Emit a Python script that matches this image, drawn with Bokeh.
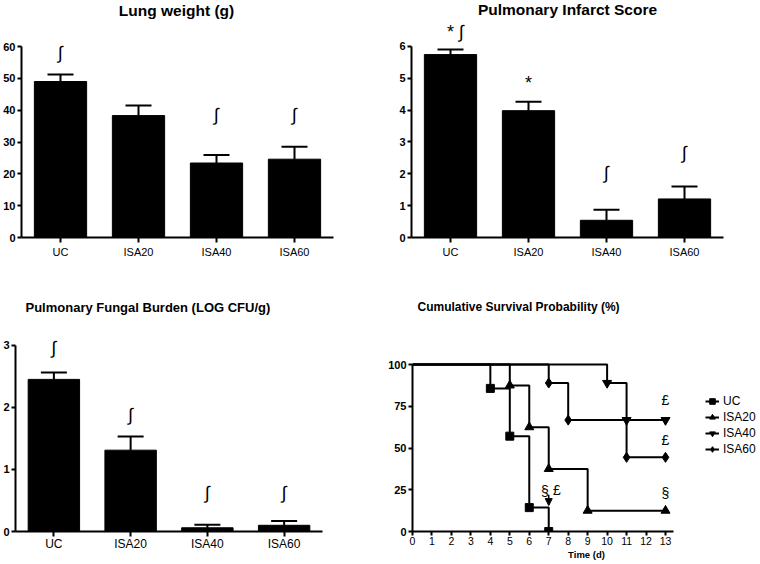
from bokeh.plotting import figure
from bokeh.models import (ColumnDataSource, Range1d, FactorRange, Whisker, TeeHead,
                          LabelSet, Label, Legend, LegendItem, Arrow, NormalHead, FixedTicker)
from bokeh.core.properties import value
from bokeh.layouts import column, row
from bokeh.embed import file_html
from bokeh.resources import INLINE

FONT = "Liberation Sans"

# ---------------- data ----------------
groups = ["UC", "ISA20", "ISA40", "ISA60"]

lung_weight = [49.0, 38.3, 23.4, 24.6]
lung_weight_err = [2.2, 3.2, 2.5, 3.9]
lung_ticks = [0, 10, 20, 30, 40, 50, 60]
lung_sig_groups = ["UC", "ISA40", "ISA60"]
lung_sig_y = [58.0, 38.5, 38.5]
lung_sig_text = ["∫", "∫", "∫"]

infarct_score = [5.74, 3.98, 0.54, 1.21]
infarct_err = [0.16, 0.28, 0.33, 0.39]
infarct_ticks = [0, 1, 2, 3, 4, 5, 6]
infarct_sig_groups = ["UC", "ISA20", "ISA40", "ISA60"]
infarct_sig_y = [6.45, 4.84, 2.03, 2.66]
infarct_sig_text = ["* ∫", "*", "∫", "∫"]

fungal_burden = [2.45, 1.31, 0.06, 0.10]
fungal_err = [0.11, 0.22, 0.05, 0.07]
fungal_ticks = [0, 1, 2, 3]
fungal_sig_groups = ["UC", "ISA20", "ISA40", "ISA60"]
fungal_sig_y = [2.95, 1.88, 0.62, 0.62]
fungal_sig_text = ["∫", "∫", "∫", "∫"]

day_ticks = list(range(14))
surv_ticks = [0, 25, 50, 75, 100]
uc_days = [0, 4, 5, 6, 7]
uc_surv = [100, 85.7, 57.1, 14.3, 0]
isa20_days = [0, 5, 6, 7, 9, 13]
isa20_surv = [100, 87.5, 62.5, 37.5, 12.5, 12.5]
isa40_days = [0, 10, 11, 13]
isa40_surv = [100, 88.9, 66.7, 66.7]
isa60_days = [0, 7, 8, 11, 13]
isa60_surv = [100, 88.9, 66.7, 44.4, 44.4]

surv_sig_x = [13, 13, 13, 6.8, 7.42]
surv_sig_y = [79, 54.5, 23, 24.5, 25]
surv_sig_text = ["£", "£", "§", "§", "£"]
arrow_x = 7
arrow_from = 22
arrow_to = 15.5


def style_axes(p, xsize="11px", xstandoff=3, ysize="11px"):
    p.xgrid.visible = False
    p.ygrid.visible = False
    p.outline_line_color = None
    p.background_fill_color = "white"
    p.border_fill_color = "white"
    for ax in (p.xaxis[0], p.yaxis[0]):
        ax.axis_line_width = 2
        ax.axis_line_color = "black"
        ax.major_tick_line_width = 2
        ax.major_tick_line_color = "black"
        ax.major_tick_in = 0
        ax.minor_tick_line_color = None
        ax.major_label_text_color = "black"
        ax.major_label_text_font = FONT
    p.xaxis[0].major_tick_out = 5
    p.xaxis[0].major_label_text_font_size = xsize
    p.xaxis[0].major_label_standoff = xstandoff
    p.yaxis[0].major_tick_out = 4
    p.yaxis[0].major_label_standoff = 2
    p.yaxis[0].major_label_text_font_size = ysize
    p.yaxis[0].major_label_text_font_style = "bold"


def add_title(p, text, x, y, size, align, baseline):
    p.add_layout(Label(x=x, y=y, x_units="screen", y_units="screen", text=text,
                       text_font=FONT, text_font_style="bold", text_font_size=size,
                       text_color="black", text_align=align, text_baseline=baseline))


def bar_panel(vals, errs, ymax, yticks, sig_g, sig_y, sig_t,
              W, H, FL, FR, FB, axis_top, xsize="11px", xstandoff=3, sig_dx=None):
    # frame spans from the top of the canvas; axis line bounded to [0, ymax]
    y_end = ymax * FB / (FB - axis_top)
    src = ColumnDataSource(dict(group=groups, value=vals,
                                upper=[v + e for v, e in zip(vals, errs)]))
    p = figure(x_range=FactorRange(factors=groups), y_range=Range1d(0, y_end),
               width=W, height=H, output_backend="svg", title=None,
               toolbar_location=None, tools="", min_border=0,
               min_border_left=FL, min_border_right=W - FR,
               min_border_top=0, min_border_bottom=H - FB)
    p.vbar(x="group", top="value", width=0.67, source=src,
           fill_color="black", line_color="black")
    p.add_layout(Whisker(base="group", lower="value", upper="upper", source=src,
                         line_width=2, line_color="black", lower_head=None,
                         upper_head=TeeHead(size=26, line_width=2, line_color="black"),
                         level="overlay"))
    lsrc = ColumnDataSource(dict(x=sig_g, y=sig_y, t=sig_t,
                                 dx=sig_dx if sig_dx else [0] * len(sig_g)))
    p.add_layout(LabelSet(x="x", y="y", text="t", source=lsrc, x_offset="dx",
                          text_align="center", text_baseline="middle",
                          text_font=value(FONT), text_font_size=value("18px"),
                          text_color="black"))
    p.yaxis[0].ticker = FixedTicker(ticks=yticks)
    p.yaxis[0].bounds = (0, ymax)
    style_axes(p, xsize=xsize, xstandoff=xstandoff)
    return p


# top-left panel: canvas (0,0)-(380,280)
p1 = bar_panel(lung_weight, lung_weight_err, 60, lung_ticks,
               lung_sig_groups, lung_sig_y, lung_sig_text,
               380, 280, FL=21, FR=333, FB=237, axis_top=46)
add_title(p1, "Lung weight (g)", 176 - 21, 237 - 10, "15.5px", "center", "middle")

# top-right panel: canvas (380,0)-(760,280)
p2 = bar_panel(infarct_score, infarct_err, 6, infarct_ticks,
               infarct_sig_groups, infarct_sig_y, infarct_sig_text,
               380, 280, FL=31, FR=343, FB=238, axis_top=46, sig_dx=[5, 0, 0, 0])
add_title(p2, "Pulmonary Infarct Score", 187 - 31, 238 - 10, "15.5px", "center", "middle")

# bottom-left panel: canvas (0,280)-(380,564)
p3 = bar_panel(fungal_burden, fungal_err, 3, fungal_ticks,
               fungal_sig_groups, fungal_sig_y, fungal_sig_text,
               380, 284, FL=15, FR=322, FB=252, axis_top=65,
               xsize="12px", xstandoff=0)
add_title(p3, "Pulmonary Fungal Burden (LOG CFU/g)", 25 - 15, 252 - 28, "13px",
          "left", "middle")

# ---------------- survival: canvas (380,280)-(760,564) ----------------
W4, H4, FL4, FB4, TOP4 = 380, 284, 32, 251, 84
x_px_per_day = 253 / 13
x_end = (W4 - FL4) / x_px_per_day
y_end = 100 * FB4 / (FB4 - TOP4)
p4 = figure(x_range=Range1d(0, x_end), y_range=Range1d(0, y_end),
            width=W4, height=H4, output_backend="svg", title=None,
            toolbar_location=None, tools="", min_border=0,
            min_border_left=FL4, min_border_right=0,
            min_border_top=0, min_border_bottom=H4 - FB4)

series = [
    ("UC", uc_days, uc_surv, "square", 8),
    ("ISA20", isa20_days, isa20_surv, "triangle", 9),
    ("ISA40", isa40_days, isa40_surv, "inverted_triangle", 9),
    ("ISA60", isa60_days, isa60_surv, "diamond", 10),
]
items = []
for name, t, s, marker, size in series:
    lr = p4.step(t, s, mode="after", line_width=2, line_color="black")
    mr = p4.scatter(t[1:], s[1:], marker=marker, size=size,
                    fill_color="black", line_color="black")
    items.append(LegendItem(label=name, renderers=[lr, mr]))

legend = Legend(items=items, location=(293, 74), orientation="vertical",
                border_line_color=None, background_fill_alpha=0,
                label_text_font=FONT, label_text_font_size="12px",
                label_text_color="black",
                glyph_width=14, glyph_height=16, label_height=16,
                label_standoff=4, spacing=0, padding=0, margin=0)
p4.add_layout(legend)

ssrc = ColumnDataSource(dict(x=surv_sig_x, y=surv_sig_y, t=surv_sig_text))
p4.add_layout(LabelSet(x="x", y="y", text="t", source=ssrc,
                       text_align="center", text_baseline="middle",
                       text_font=value(FONT), text_font_size=value("14px"),
                       text_color="black"))
p4.add_layout(Arrow(x_start=arrow_x, y_start=arrow_from, x_end=arrow_x, y_end=arrow_to,
                    line_width=1.5, line_color="black",
                    end=NormalHead(size=7, fill_color="black", line_color="black")))

p4.xaxis[0].ticker = FixedTicker(ticks=day_ticks)
p4.yaxis[0].ticker = FixedTicker(ticks=surv_ticks)
p4.xaxis[0].bounds = (0, 13.4)
p4.yaxis[0].bounds = (0, 100)
style_axes(p4, xsize="10.5px", xstandoff=1)
p4.xaxis[0].major_tick_out = 4
p4.xaxis[0].axis_label = "Time (d)"
p4.xaxis[0].axis_label_text_font = FONT
p4.xaxis[0].axis_label_text_font_style = "bold"
p4.xaxis[0].axis_label_text_font_size = "9.5px"
p4.xaxis[0].axis_label_standoff = 1
p4.xaxis[0].axis_label_text_color = "black"
add_title(p4, "Cumulative Survival Probability (%)", 37 - FL4, FB4 - 26, "12px",
          "left", "middle")

layout = column(row(p1, p2), row(p3, p4))
open("out.html", "w").write(file_html(layout, INLINE, "chart"))
